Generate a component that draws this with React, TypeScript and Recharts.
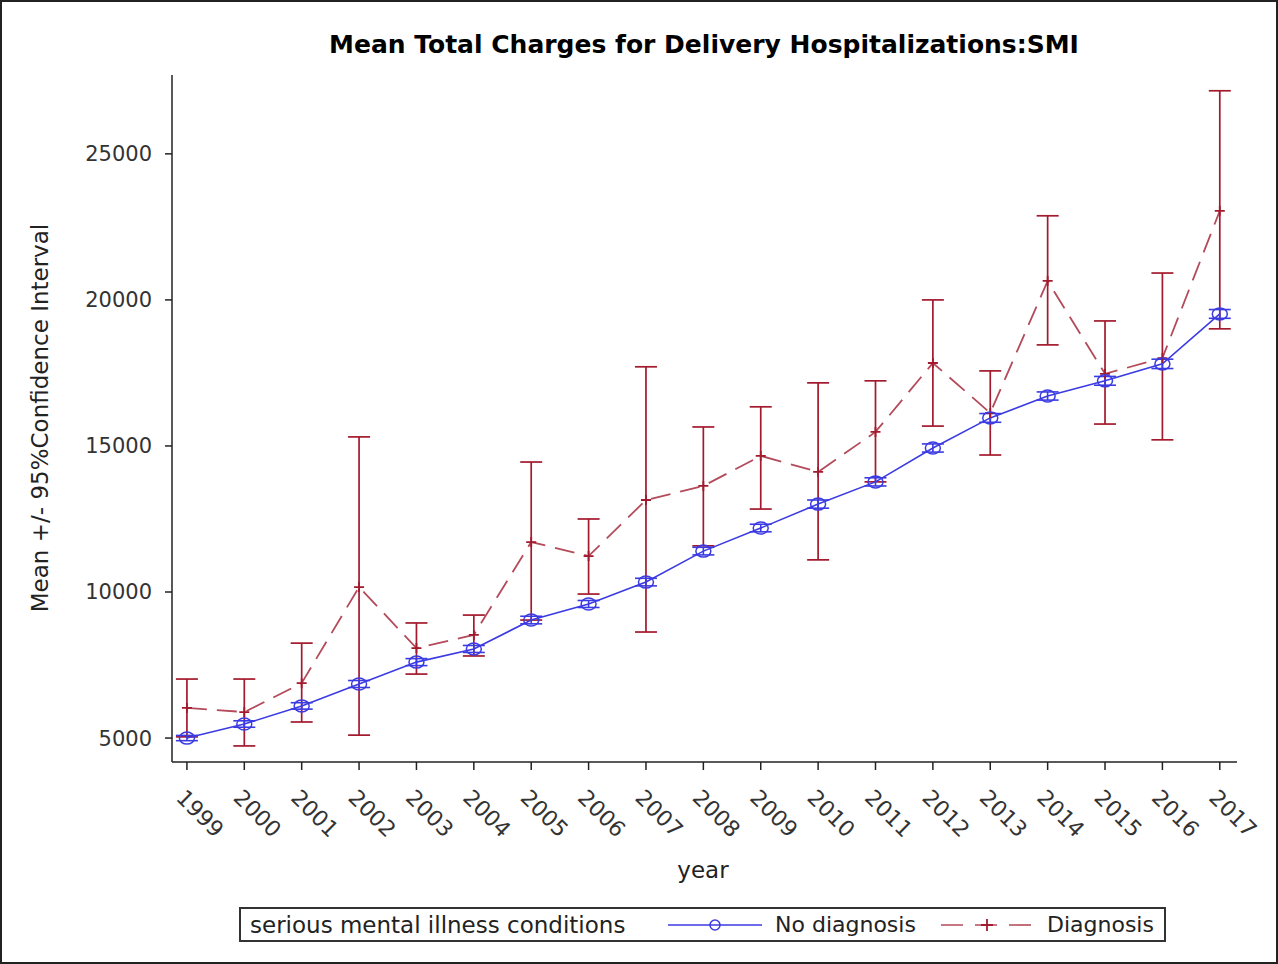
import React from "react";
import { ComposedChart, Line, XAxis, YAxis, ErrorBar } from "recharts";

// years on the x axis
const years = [
  1999, 2000, 2001, 2002, 2003, 2004, 2005, 2006, 2007, 2008, 2009, 2010,
  2011, 2012, 2013, 2014, 2015, 2016, 2017,
];

// No diagnosis: mean and half width of the 95% CI
const noDxMean = [
  5000, 5480, 6100, 6850, 7600, 8050, 9040, 9590, 10340, 11400, 12190, 13010,
  13770, 14930, 15960, 16710, 17230, 17810, 19520,
];
const noDxCi = [
  90, 110, 110, 120, 120, 120, 130, 120, 130, 130, 130, 140, 140, 140, 150,
  140, 150, 160, 150,
];

// Diagnosis: mean, lower and upper CI
const dxMean = [
  6030, 5890, 6880, 10170, 8080, 8530, 11710, 11230, 13150, 13630, 14660,
  14110, 15480, 17840, 16130, 20650, 17470, 18010, 23050,
];
const dxLow = [
  5040, 4730, 5550, 5100, 7190, 7810, 9040, 9930, 8630, 11580, 12840, 11100,
  13770, 15680, 14690, 18460, 15750, 15210, 19010,
];
const dxHigh = [
  7020, 7020, 8250, 15310, 8940, 9210, 14450, 12500, 17710, 15650, 16340,
  17160, 17230, 20000, 17570, 22880, 19280, 20920, 27160,
];

const yTicks = [5000, 10000, 15000, 20000, 25000];

const data = years.map((year, i) => ({
  year,
  noDx: noDxMean[i],
  noDxErr: [noDxCi[i], noDxCi[i]],
  dx: dxMean[i],
  dxErr: [dxMean[i] - dxLow[i], dxHigh[i] - dxMean[i]],
}));

const FONT = "'DejaVu Sans', 'Liberation Sans', Arial, sans-serif";
const BLUE = "#3b3be3";
const RED_LINE = "#b34b5b";
const RED_BAR = "#a3192d";

const YearTick = (props: any) => {
  const { x, y, payload } = props;
  const tx = x - 12;
  const ty = y + 27;
  return (
    <text
      x={tx}
      y={ty}
      transform={`rotate(45 ${tx} ${ty})`}
      fontSize={22}
      fontFamily={FONT}
      fill="#333"
      textAnchor="start"
    >
      {payload.value}
    </text>
  );
};

const CircleDot = (props: any) => {
  const { cx, cy, index } = props;
  return (
    <ellipse
      key={`c-${index}`}
      cx={cx}
      cy={cy}
      rx={7.5}
      ry={6}
      fill="none"
      stroke={BLUE}
      strokeWidth={1.5}
    />
  );
};

const PlusDot = (props: any) => {
  const { cx, cy, index } = props;
  return (
    <path
      key={`p-${index}`}
      d={`M${cx - 5},${cy}H${cx + 5}M${cx},${cy - 5}V${cy + 5}`}
      stroke={RED_BAR}
      strokeWidth={1.8}
      fill="none"
    />
  );
};

export default function App() {
  return (
    <div
      style={{
        position: "absolute",
        left: 0,
        top: 0,
        width: 1278,
        height: 964,
        background: "#fff",
        fontFamily: FONT,
      }}
    >
      <ComposedChart
        width={1278}
        height={964}
        data={data}
        margin={{ top: 75, right: 41, bottom: 0, left: 0 }}
      >
        <XAxis
          dataKey="year"
          type="number"
          domain={[1998.74, 2017.3]}
          ticks={years}
          allowDataOverflow
          height={202}
          tickSize={8}
          tick={<YearTick />}
          axisLine={{ stroke: "#222", strokeWidth: 1.5 }}
          tickLine={{ stroke: "#222", strokeWidth: 1.5 }}
        />
        <YAxis
          type="number"
          domain={[4180, 27700]}
          ticks={yTicks}
          allowDataOverflow
          width={172}
          tickSize={7}
          tickMargin={13}
          tick={{ fontSize: 21, fontFamily: FONT, fill: "#333" }}
          axisLine={{ stroke: "#222", strokeWidth: 1.5 }}
          tickLine={{ stroke: "#222", strokeWidth: 1.5 }}
        />
        <Line
          dataKey="dx"
          stroke={RED_LINE}
          strokeWidth={1.8}
          strokeDasharray="20 10"
          dot={PlusDot}
          activeDot={false}
          isAnimationActive={false}
        >
          <ErrorBar
            dataKey="dxErr"
            direction="y"
            width={11}
            stroke={RED_BAR}
            strokeWidth={1.7}
          />
        </Line>
        <Line
          dataKey="noDx"
          stroke={BLUE}
          strokeWidth={1.6}
          dot={CircleDot}
          activeDot={false}
          isAnimationActive={false}
        >
          <ErrorBar
            dataKey="noDxErr"
            direction="y"
            width={11}
            stroke={BLUE}
            strokeWidth={1.6}
          />
        </Line>
      </ComposedChart>

      {/* title */}
      <div
        style={{
          position: "absolute",
          left: 0,
          width: 1408,
          top: 30,
          textAlign: "center",
          fontSize: 25,
          fontWeight: "bold",
          color: "#000",
          lineHeight: "30px",
        }}
      >
        Mean Total Charges for Delivery Hospitalizations:SMI
      </div>

      {/* y axis title */}
      <div
        style={{
          position: "absolute",
          left: 40,
          top: 418,
          transform: "translate(-50%, -50%) rotate(-90deg)",
          whiteSpace: "nowrap",
          fontSize: 23,
          color: "#222",
        }}
      >
        Mean +/- 95%Confidence Interval
      </div>

      {/* x axis title */}
      <div
        style={{
          position: "absolute",
          left: 703,
          top: 870,
          transform: "translate(-50%, -50%)",
          fontSize: 23,
          color: "#222",
        }}
      >
        year
      </div>

      {/* legend */}
      <div
        style={{
          position: "absolute",
          left: 239,
          top: 907,
          width: 927,
          height: 35,
          boxSizing: "border-box",
          border: "2px solid #333",
          fontSize: 22,
          color: "#222",
        }}
      >
        <span
          style={{ position: "absolute", left: 9, top: 3, fontSize: 23 }}
        >
          serious mental illness conditions
        </span>
        <svg
          style={{ position: "absolute", left: 427, top: 0 }}
          width={96}
          height={31}
        >
          <line x1={0} y1={16} x2={94} y2={16} stroke={BLUE} strokeWidth={1.6} />
          <ellipse
            cx={47}
            cy={16}
            rx={5}
            ry={5}
            fill="none"
            stroke={BLUE}
            strokeWidth={1.5}
          />
        </svg>
        <span style={{ position: "absolute", left: 534, top: 3 }}>
          No diagnosis
        </span>
        <svg
          style={{ position: "absolute", left: 700, top: 0 }}
          width={92}
          height={31}
        >
          <line
            x1={0}
            y1={16}
            x2={92}
            y2={16}
            stroke={RED_LINE}
            strokeWidth={1.6}
            strokeDasharray="22 12"
          />
          <path d="M40,16H52M46,10V22" stroke={RED_BAR} strokeWidth={1.8} />
        </svg>
        <span style={{ position: "absolute", left: 806, top: 3 }}>
          Diagnosis
        </span>
      </div>

      {/* outer frame */}
      <div
        style={{
          position: "absolute",
          left: 0,
          top: 0,
          width: 1278,
          height: 964,
          boxSizing: "border-box",
          border: "2px solid #222",
          pointerEvents: "none",
        }}
      />
    </div>
  );
}
